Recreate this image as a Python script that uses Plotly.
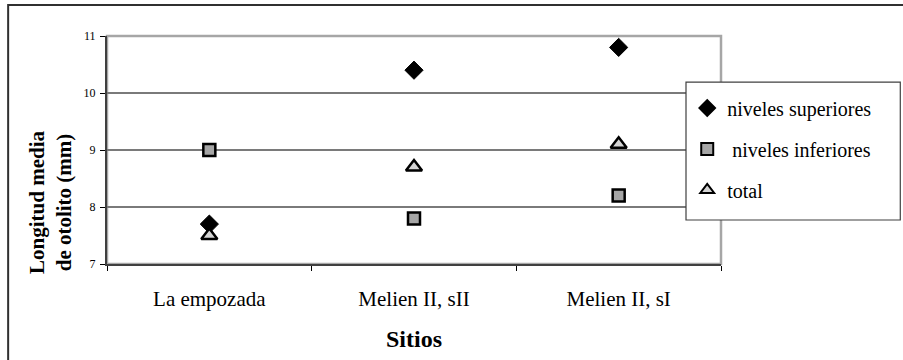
import plotly.graph_objects as go

# Mean otolith length per site and level
sites = ["La empozada", "Melien II, sII", "Melien II, sI"]
upper_levels = [7.7, 10.4, 10.8]
lower_levels = [9.0, 7.8, 8.2]
total = [7.5, 8.7, 9.1]
y_ticks = [7, 8, 9, 10, 11]

SERIF = "Liberation Serif, Times New Roman, serif"

fig = go.Figure()
fig.add_trace(go.Scatter(
    x=sites, y=upper_levels, mode="markers", name="niveles superiores",
    legendgroup="a",
    marker=dict(symbol="diamond", size=14, color="black",
                line=dict(color="black", width=1)),
))
fig.add_trace(go.Scatter(
    x=sites, y=lower_levels, mode="markers", name=" niveles inferiores",
    legendgroup="b",
    marker=dict(symbol="square", size=12, color="#a6a6a6",
                line=dict(color="black", width=2.5)),
))
fig.add_trace(go.Scatter(
    x=sites, y=total, mode="markers", name="total",
    legendgroup="c",
    marker=dict(symbol="triangle-up", size=14, color="#d4d4d4",
                line=dict(color="black", width=2.5)),
))

fig.update_layout(
    width=903, height=360,
    margin=dict(l=107, r=182, t=36, b=96),
    paper_bgcolor="white", plot_bgcolor="white",
    font=dict(family=SERIF, color="black"),
    showlegend=True,
    legend=dict(
        x=0.945, xanchor="left", y=0.77, yanchor="top",
        bgcolor="rgba(0,0,0,0)", borderwidth=0,
        font=dict(family=SERIF, size=20, color="black"),
        tracegroupgap=12, itemsizing="constant",
    ),
    xaxis=dict(
        type="category", tickson="boundaries", range=[-0.5, 2.5],
        showgrid=False, zeroline=False,
        showline=True, linecolor="#404040", linewidth=2,
        ticks="outside", ticklen=5, tickcolor="black", tickwidth=1,
        tickfont=dict(family=SERIF, size=21, color="black"),
        ticklabelstandoff=15,
        title=dict(text="<b>Sitios</b>", font=dict(family=SERIF, size=24),
                   standoff=20),
    ),
    yaxis=dict(
        range=[7, 11], tickvals=y_ticks,
        showgrid=True, gridcolor="#7a7a7a", gridwidth=1.5,
        zeroline=False,
        showline=True, linecolor="#404040", linewidth=2,
        ticks="outside", ticklen=5, tickcolor="black", tickwidth=1,
        tickfont=dict(family=SERIF, size=12, color="black"),
        ticklabelstandoff=2,
    ),
    shapes=[
        # outer chart frame
        dict(type="rect", xref="paper", yref="paper",
             x0=-0.161, x1=1.5, y0=-1.0, y1=1.136,
             line=dict(color="#303030", width=2), layer="below"),
        # plot area border (top and right)
        dict(type="rect", xref="paper", yref="paper",
             x0=0, x1=1, y0=0, y1=1,
             line=dict(color="#a6a6a6", width=2.5), layer="below"),
        # legend box
        dict(type="rect", xref="paper", yref="paper",
             x0=0.943, x1=1.292, y0=0.193, y1=0.798,
             fillcolor="white", line=dict(color="#404040", width=1.2),
             layer="above"),
    ],
    annotations=[
        dict(text="<b>Longitud media<br>de otolito (mm)</b>",
             xref="paper", yref="paper", x=-0.092, y=0.27,
             xanchor="center", yanchor="middle", textangle=-90,
             showarrow=False, align="center",
             font=dict(family=SERIF, size=21, color="black")),
    ],
)

fig.write_html("out.html")
